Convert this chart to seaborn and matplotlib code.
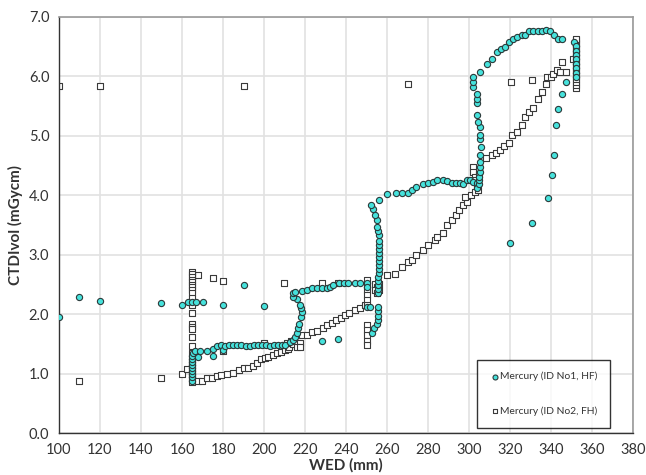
import matplotlib
matplotlib.use("Agg")
import matplotlib.pyplot as plt
import matplotlib.ticker as ticker
import pandas as pd
import seaborn as sns

# Mercury (ID No1, HF) - circulos
wed_hf = [100, 110, 120, 150, 160, 163, 165, 167, 170, 180, 190, 200,
          165, 165, 165, 165, 165, 165, 165, 165, 165, 165.5,
          166.5, 167.8, 168.8, 172, 175.3, 175.3, 177, 179, 180,
          181, 183, 185, 187, 189, 191, 193, 195, 197, 199, 201, 203, 205, 207, 209,
          210.2, 212.7, 214.3, 215.1, 216, 216.7, 217.2, 217.9, 218.4, 218, 217.6, 216, 214.3, 214, 215,
          218.4, 220.8, 223.3, 225.7, 228.1, 230.5, 232.2, 233.8, 236.7, 239, 241.1, 244.4, 246.8, 250.1,
          228.1, 236,
          250.1, 250.1, 251.7, 252.6, 253.7, 255, 255.4, 255.4, 255.4, 255.4,
          255.8, 255.8, 255.8, 255.8, 255.8, 256, 256, 256, 256, 256, 256, 256, 256, 256,
          256.1, 255.8, 255, 255, 254.1, 253.3, 252.2,
          256.1, 260.1, 264.2, 267.2, 270.4, 272, 274.1, 277.4, 280.1, 282.6, 284.5, 287.5, 289.1,
          291.6, 293.7, 295.6, 297.2, 298.9, 300.5, 302.1, 303.8,
          304, 305, 305, 305, 305.4, 305.4, 305.4, 305.4, 305.7, 305.4, 305.4, 305.4,
          304.5, 304, 304, 304, 304, 302.1, 302.1, 302.1,
          305.4, 308.6, 311.4, 313.5, 315.5, 317.3, 319.7, 321.3, 323.3, 325.7, 327.3, 329.4,
          331.4, 333.5, 335.5, 337.6, 339.5, 341.6, 343.3, 345.2,
          347.3, 345.2, 343.3, 342.3, 341.6, 340.5, 338.4, 330.6, 320,
          351.4, 352.2, 352.2, 352.2, 352.2, 352.2, 352.2, 352.2, 352.2]
ctdi_hf = [1.95, 2.28, 2.22, 2.19, 2.15, 2.2, 2.2, 2.2, 2.2, 2.15, 2.48, 2.14,
           0.88, 0.94, 1.0, 1.05, 1.1, 1.15, 1.2, 1.25, 1.3, 1.35,
           1.38, 1.28, 1.38, 1.38, 1.42, 1.29, 1.46, 1.48, 1.4,
           1.47, 1.48, 1.48, 1.48, 1.48, 1.47, 1.47, 1.48, 1.48, 1.48, 1.48, 1.47, 1.48, 1.48, 1.48,
           1.48, 1.53, 1.56, 1.62, 1.68, 1.76, 1.84, 1.95, 2.04, 2.1, 2.15, 2.26, 2.29, 2.35, 2.37,
           2.38, 2.4, 2.43, 2.44, 2.44, 2.43, 2.46, 2.49, 2.52, 2.52, 2.52, 2.52, 2.52, 2.52,
           1.55, 1.58,
           2.46, 2.12, 2.12, 1.68, 1.76, 1.84, 1.9, 1.97, 2.05, 2.12,
           2.35, 2.42, 2.49, 2.56, 2.62, 2.69, 2.76, 2.83, 2.89, 2.96, 3.03, 3.09, 3.16, 3.22,
           3.33, 3.4, 3.47, 3.58, 3.67, 3.76, 3.84,
           3.92, 4.01, 4.04, 4.04, 4.04, 4.08, 4.13, 4.18, 4.21, 4.22, 4.25, 4.25, 4.24,
           4.21, 4.21, 4.21, 4.18, 4.25, 4.25, 4.22, 4.2,
           4.12, 4.18, 4.25, 4.31, 4.39, 4.48, 4.56, 4.67, 4.81, 4.94, 5.01, 5.14,
           5.23, 5.34, 5.54, 5.62, 5.7, 5.82, 5.9, 5.99,
           6.07, 6.2, 6.28, 6.4, 6.45, 6.49, 6.58, 6.62, 6.66, 6.69, 6.69, 6.75,
           6.75, 6.75, 6.75, 6.78, 6.75, 6.69, 6.62, 6.62,
           5.9, 5.7, 5.44, 5.18, 4.67, 4.34, 3.95, 3.53, 3.2,
           6.58, 6.5, 6.42, 6.35, 6.28, 6.2, 6.13, 6.05, 5.99]

# Mercury (ID No2, FH) - quadrados
wed_fh = [100, 120, 190, 270, 110, 150, 160, 162.3, 168, 175, 180, 209.9, 228.1, 236, 180, 200,
          165, 165, 165, 165, 165, 165, 165, 165, 165, 165, 165, 165, 165,
          165, 165, 165, 165, 165, 165, 165, 165, 165, 165, 165, 165, 165,
          168, 169.6, 172, 174.5, 177, 179, 182.1, 185, 188, 190.2, 192.3, 194.5, 196.4,
          198.4, 200.5, 202.1, 204.2, 206.2, 208.1, 210.2, 211.9,
          210, 212, 214, 216, 217.6, 216, 217.6, 213, 211,
          218.4, 220.8, 223.3, 225.7, 228.6, 230.9, 233, 235.1, 237.4, 239.5, 241.6, 244.4, 246.8, 249.3,
          250.1, 250.1, 250.1, 250.1, 250.1, 250.1, 250.1, 250.1, 250.1, 250.4, 250.4,
          254, 255, 256, 254, 256, 255,
          260.1, 263.9, 267.2, 270.4, 272, 274.1, 277.4, 280.1, 283.4, 284.5, 287.5, 289.4,
          291.6, 293.7, 295.3, 297.2, 298.9, 298, 300.8, 302.9, 304.5,
          302.1, 302.1, 303, 304, 304, 303, 305,
          308.3, 311, 313.2, 315.1, 317.2, 319.5, 321.1, 323.3, 325.7, 327.3, 329.4, 331, 333.5,
          335.5, 337.4, 338.2, 339.8, 341.1, 342.7, 344.4, 347.3, 345.5, 320.3, 330.5, 350.9,
          352.2, 352.2, 352.2, 352.2, 352.2, 352.2, 352.2, 352.2, 352.2,
          352.2, 352.2, 352.2, 352.2, 352.2, 352.2, 352.2, 352.2, 352.2]
ctdi_fh = [5.83, 5.83, 5.83, 5.87, 0.88, 0.92, 1.0, 1.07, 2.66, 2.6, 2.56, 2.52, 2.52, 2.52, 1.38, 1.52,
           2.71, 2.67, 2.63, 2.58, 2.54, 2.49, 2.45, 2.4, 2.35, 2.27, 2.15, 2.01, 1.84,
           1.79, 1.75, 1.62, 1.46, 1.34, 1.26, 1.2, 1.14, 1.09, 1.03, 0.97, 0.92, 0.86,
           0.88, 0.88, 0.92, 0.92, 0.96, 0.97, 1.0, 1.01, 1.06, 1.09, 1.09, 1.13, 1.17,
           1.24, 1.26, 1.28, 1.31, 1.34, 1.37, 1.39, 1.41,
           1.48, 1.45, 1.5, 1.51, 1.51, 1.45, 1.45, 1.55, 1.52,
           1.65, 1.65, 1.69, 1.72, 1.77, 1.82, 1.85, 1.9, 1.94, 1.98, 2.02, 2.07, 2.1, 2.15,
           2.57, 2.49, 2.4, 2.32, 2.24, 2.15, 1.82, 1.73, 1.65, 1.55, 1.48,
           2.5, 2.45, 2.4, 2.4, 2.5, 2.35,
           2.66, 2.68, 2.79, 2.88, 2.91, 2.99, 3.07, 3.16, 3.24, 3.29, 3.37, 3.5,
           3.58, 3.66, 3.75, 3.83, 3.89, 3.97, 4.0, 4.06, 4.08,
           4.48, 4.39, 4.3, 4.22, 4.15, 4.25, 4.35,
           4.63, 4.67, 4.71, 4.76, 4.82, 4.87, 5.01, 5.06, 5.18, 5.31, 5.4, 5.47, 5.61,
           5.73, 5.86, 5.99, 5.99, 6.03, 6.1, 6.07, 6.07, 6.24, 5.9, 5.94, 6.28,
           5.8, 5.85, 5.9, 5.95, 6.0, 6.05, 6.1, 6.15, 6.2,
           6.25, 6.3, 6.35, 6.4, 6.45, 6.5, 6.55, 6.6, 6.63]

sns.set_style("white")
plt.rcParams['font.family'] = ['Lato', 'DejaVu Sans']

df_hf = pd.DataFrame({"wed": wed_hf, "ctdi": ctdi_hf})
df_fh = pd.DataFrame({"wed": wed_fh, "ctdi": ctdi_fh})

fig = plt.figure(figsize=(6.46, 4.75), dpi=100)
ax = fig.add_axes([0.0913, 0.0884, 0.8887, 0.8766])

sns.scatterplot(data=df_hf, x="wed", y="ctdi", ax=ax, marker="o", s=20,
                color="#46e2dc", edgecolor="#2b3a3a", linewidth=0.8,
                label="Mercury (ID No1, HF)", zorder=3)
sns.scatterplot(data=df_fh, x="wed", y="ctdi", ax=ax, marker="s", s=18,
                color="white", edgecolor="#3a3a3a", linewidth=0.8,
                label="Mercury (ID No2, FH)", zorder=2)

ax.set_xlim(100, 380)
ax.set_ylim(0, 7)
ax.xaxis.set_major_locator(ticker.MultipleLocator(20))
ax.xaxis.set_minor_locator(ticker.MultipleLocator(5))
ax.yaxis.set_major_locator(ticker.MultipleLocator(1))
ax.yaxis.set_minor_locator(ticker.MultipleLocator(0.2))
ax.yaxis.set_major_formatter(ticker.StrMethodFormatter("{x:.1f}"))
ax.grid(True, which="major", color="#e2e2e2", linewidth=1.2, zorder=0)
ax.set_axisbelow(True)

for s in ["top", "right"]:
    ax.spines[s].set_color("#9a9a9a")
    ax.spines[s].set_linewidth(1.2)
for s in ["left", "bottom"]:
    ax.spines[s].set_color("#333333")
    ax.spines[s].set_linewidth(1.0)

ax.tick_params(which="major", direction="inout", length=7, width=1, color="#333333",
               labelsize=10.5, labelcolor="#333333")
ax.tick_params(which="minor", direction="out", length=3, width=0.8, color="#333333")

ax.set_xlabel("WED (mm)", fontsize=11, fontweight="bold", color="#333333", labelpad=1)
ax.set_ylabel("CTDIvol (mGycm)", fontsize=11, fontweight="bold", color="#333333")

leg = ax.legend(loc="lower right", bbox_to_anchor=(0.96, 0.012), fontsize=7.4,
                frameon=True, fancybox=False, edgecolor="black", labelspacing=2.4,
                handletextpad=0.05, borderpad=1.2, markerscale=0.8, handlelength=1.0,
                borderaxespad=0)
leg.get_frame().set_linewidth(1.0)
for t in leg.get_texts():
    t.set_color("#333333")

fig.savefig("out.png", dpi=100)
